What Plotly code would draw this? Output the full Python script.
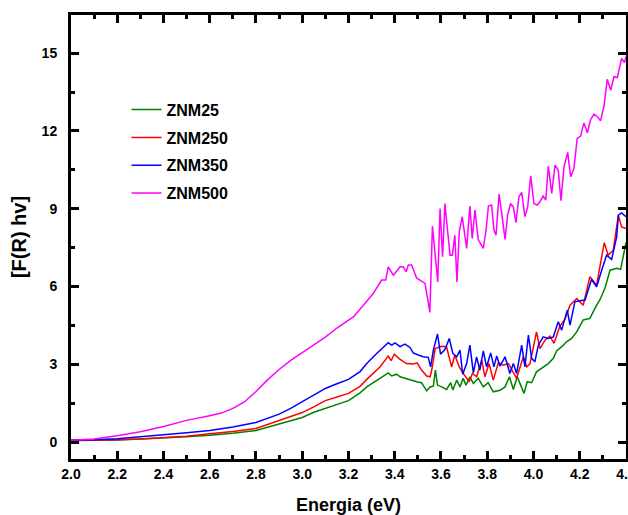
import plotly.graph_objects as go

# ---- data ----
x_znm25 = [2.0, 2.1, 2.2, 2.3, 2.4, 2.5, 2.6, 2.7, 2.8, 2.9, 2.95, 3.0, 3.05, 3.1, 3.15, 3.2, 3.25, 3.279,
           3.336, 3.372, 3.387, 3.408, 3.423, 3.444, 3.466, 3.495, 3.516, 3.538, 3.553, 3.567, 3.576, 3.585,
           3.603, 3.624, 3.642, 3.651, 3.668, 3.682, 3.696, 3.708, 3.725, 3.74, 3.761, 3.783, 3.804, 3.826,
           3.855, 3.877, 3.896, 3.913, 3.93, 3.949, 3.959, 3.973, 3.992, 4.013, 4.042, 4.064, 4.086, 4.1,
           4.122, 4.143, 4.165, 4.187, 4.215, 4.244, 4.273, 4.287, 4.309, 4.331, 4.36, 4.377, 4.395, 4.4]
y_znm25 = [0.06, 0.07, 0.08, 0.12, 0.16, 0.21, 0.27, 0.34, 0.45, 0.69, 0.82, 0.95, 1.15, 1.3, 1.45, 1.6, 1.9, 2.13,
           2.46, 2.67, 2.55, 2.62, 2.52, 2.46, 2.39, 2.33, 2.29, 1.98, 2.13, 2.16, 2.78, 2.2,
           2.13, 2.03, 2.29, 2.01, 2.39, 2.13, 2.46, 2.2, 2.52, 2.26, 2.46, 2.13, 2.29, 1.94,
           2.0, 2.13, 2.52, 2.03, 2.52, 2.13, 1.88, 2.33, 2.29, 2.71, 2.9, 3.03, 3.23, 3.52,
           3.68, 3.87, 4.0, 4.25, 4.71, 4.77, 5.28, 5.48, 5.93, 6.63, 6.7, 6.66, 7.47, 7.7]

x_znm250 = [2.0, 2.1, 2.2, 2.3, 2.4, 2.5, 2.6, 2.7, 2.8, 2.9, 2.95, 3.0, 3.05, 3.1, 3.15, 3.2, 3.25, 3.279,
            3.336, 3.372, 3.384, 3.398, 3.423, 3.451, 3.48, 3.497, 3.516, 3.538, 3.553, 3.56, 3.575, 3.603,
            3.624, 3.646, 3.66, 3.679, 3.696, 3.722, 3.736, 3.754, 3.776, 3.79, 3.808, 3.826, 3.848, 3.869,
            3.891, 3.913, 3.927, 3.956, 3.971, 3.985, 4.013, 4.028, 4.05, 4.071, 4.089, 4.114, 4.136, 4.158,
            4.187, 4.215, 4.244, 4.273, 4.306, 4.323, 4.345, 4.367, 4.381, 4.4]
y_znm250 = [0.06, 0.07, 0.09, 0.12, 0.17, 0.23, 0.32, 0.41, 0.53, 0.84, 0.98, 1.14, 1.36, 1.6, 1.74, 1.88, 2.15, 2.42,
            2.9, 3.32, 3.14, 3.39, 3.19, 3.03, 3.01, 3.06, 2.78, 2.55, 2.52, 2.78, 3.61, 3.7,
            3.68, 2.9, 3.36, 2.9, 2.65, 2.33, 2.65, 2.52, 3.16, 2.52, 3.03, 2.39, 3.06, 2.97,
            3.03, 2.71, 2.46, 3.29, 2.9, 3.03, 4.25, 3.61, 3.93, 4.09, 3.81, 4.47, 4.73, 5.28,
            5.54, 5.28, 6.38, 6.05, 7.69, 7.21, 7.4, 8.75, 8.3, 8.24]

x_znm350 = [2.0, 2.1, 2.2, 2.3, 2.4, 2.5, 2.6, 2.7, 2.8, 2.9, 2.95, 3.0, 3.05, 3.1, 3.15, 3.2, 3.25, 3.279,
            3.322, 3.351, 3.372, 3.387, 3.401, 3.423, 3.444, 3.466, 3.48, 3.502, 3.523, 3.545, 3.555, 3.567,
            3.585, 3.598, 3.617, 3.636, 3.651, 3.668, 3.682, 3.694, 3.711, 3.725, 3.74, 3.754, 3.768, 3.783,
            3.797, 3.815, 3.829, 3.841, 3.855, 3.877, 3.898, 3.913, 3.927, 3.949, 3.963, 3.978, 3.992, 4.006,
            4.021, 4.042, 4.064, 4.086, 4.107, 4.122, 4.146, 4.158, 4.179, 4.201, 4.223, 4.251, 4.273, 4.295,
            4.316, 4.338, 4.36, 4.367, 4.381, 4.4]
y_znm350 = [0.08, 0.09, 0.13, 0.2, 0.28, 0.36, 0.45, 0.58, 0.76, 1.08, 1.3, 1.55, 1.82, 2.07, 2.25, 2.42, 2.72, 3.03,
            3.42, 3.68, 3.83, 3.74, 3.83, 3.68, 3.78, 3.65, 3.44, 3.36, 3.29, 3.27, 2.9, 3.55,
            4.17, 3.39, 3.57, 4.0, 3.42, 3.29, 3.55, 2.62, 3.03, 3.74, 2.67, 3.29, 2.78, 3.52,
            2.9, 3.44, 2.9, 3.32, 2.93, 3.29, 2.65, 3.03, 2.65, 3.74, 2.9, 4.13, 3.23, 3.1,
            3.74, 4.06, 4.0, 4.06, 4.64, 4.32, 5.09, 4.51, 5.41, 5.45, 5.48, 6.27, 5.99, 6.63,
            7.21, 7.05, 7.92, 8.75, 8.84, 8.69]

x_znm500 = [2.0, 2.1, 2.2, 2.3, 2.4, 2.5, 2.6, 2.65, 2.7, 2.75, 2.8, 2.85, 2.9, 2.95, 3.0, 3.05, 3.1, 3.15, 3.2,
            3.221, 3.271, 3.307, 3.343, 3.361, 3.372, 3.394, 3.423, 3.437, 3.449, 3.459, 3.473, 3.495, 3.509,
            3.531, 3.552, 3.563, 3.586, 3.596, 3.607, 3.617, 3.639, 3.649, 3.66, 3.669, 3.679, 3.692, 3.711,
            3.725, 3.735, 3.747, 3.761, 3.783, 3.795, 3.805, 3.819, 3.829, 3.838, 3.851, 3.862, 3.877, 3.888,
            3.901, 3.913, 3.924, 3.937, 3.949, 3.963, 3.975, 3.988, 4.002, 4.016, 4.028, 4.042, 4.053, 4.064,
            4.079, 4.093, 4.107, 4.119, 4.132, 4.148, 4.161, 4.175, 4.189, 4.204, 4.218, 4.233, 4.247, 4.262,
            4.276, 4.29, 4.305, 4.319, 4.334, 4.348, 4.363, 4.381, 4.393, 4.4]
y_znm500 = [0.07, 0.12, 0.25, 0.4, 0.6, 0.84, 1.02, 1.12, 1.3, 1.55, 1.95, 2.4, 2.8, 3.15, 3.45, 3.75, 4.05, 4.4, 4.72,
            4.83, 5.35, 5.73, 6.25, 6.25, 6.76, 6.44, 6.76, 6.76, 6.57, 6.83, 6.83, 6.32, 6.25,
            6.12, 5.0, 8.33, 6.18, 9.01, 7.15, 9.2, 7.21, 7.21, 7.98, 6.18, 8.11, 8.69, 7.47,
            9.1, 7.85, 8.95, 7.81, 7.47, 8.18, 9.1, 9.14, 8.18, 7.98, 9.56, 8.88, 7.82, 8.75,
            9.2, 9.07, 8.46, 9.46, 9.63, 8.69, 9.07, 10.27, 9.2, 9.14, 9.27, 9.49, 9.33, 10.64,
            9.59, 10.68, 10.49, 9.31, 10.62, 11.17, 10.23, 10.56, 11.71, 11.8, 12.31, 11.93, 12.44, 12.65,
            12.55, 12.39, 12.96, 13.99, 13.57, 14.09, 14.06, 14.8, 14.63, 14.86]

x_tick_values = [2.0, 2.2, 2.4, 2.6, 2.8, 3.0, 3.2, 3.4, 3.6, 3.8, 4.0, 4.2, 4.4]
x_tick_labels = ["2.0", "2.2", "2.4", "2.6", "2.8", "3.0", "3.2", "3.4", "3.6", "3.8", "4.0", "4.2", "4.4"]
y_tick_values = [0, 3, 6, 9, 12, 15]
y_tick_labels = ["0", "3", "6", "9", "12", "15"]

series_names = ["ZNM25", "ZNM250", "ZNM350", "ZNM500"]
series_colors = ["#008000", "#FF0000", "#0000FF", "#FF00FF"]
series_x = [x_znm25, x_znm250, x_znm350, x_znm500]
series_y = [y_znm25, y_znm250, y_znm350, y_znm500]

FONT = "Liberation Sans, Arial, sans-serif"

fig = go.Figure()
for name, col, xs, ys in zip(series_names, series_colors, series_x, series_y):
    fig.add_trace(go.Scatter(x=xs, y=ys, mode="lines", name=name, legendgroup=name,
                             line=dict(color=col, width=1.5)))

fig.update_xaxes(range=[2.0, 4.4001], tickmode="array", tickvals=x_tick_values,
                 ticktext=["<b>" + t + "</b>" for t in x_tick_labels],
                 ticklabeloverflow="allow", automargin=False,
                 showgrid=False, zeroline=False, showline=True, linecolor="black", linewidth=3,
                 mirror="ticks", ticks="inside", ticklen=8, tickwidth=3, tickcolor="black",
                 tickfont=dict(family=FONT, size=14, color="black"),
                 minor=dict(ticks="inside", tickmode="linear", tick0=2.0, dtick=0.1, ticklen=4, tickwidth=3,
                            tickcolor="black"),
                 title=dict(text="Energia (eV)", standoff=18,
                            font=dict(family=FONT, size=18, color="black", weight="bold")))
fig.update_yaxes(range=[-0.65, 16.47], tickmode="array", tickvals=y_tick_values,
                 ticktext=["<b>" + t + "</b>" for t in y_tick_labels], automargin=False,
                 showgrid=False, zeroline=False, showline=True, linecolor="black", linewidth=3,
                 mirror="ticks", ticks="inside", ticklen=8, tickwidth=3, tickcolor="black",
                 tickfont=dict(family=FONT, size=14, color="black"),
                 minor=dict(ticks="inside", tickmode="linear", tick0=0, dtick=1.5, ticklen=4, tickwidth=3,
                            tickcolor="black"),
                 ticklabelstandoff=8,
                 title=dict(text="[F(R) hv]", standoff=10,
                            font=dict(family=FONT, size=20, color="black", weight="bold")))

fig.update_layout(
    width=628, height=515,
    margin=dict(l=71, r=2, t=15, b=56),
    paper_bgcolor="white", plot_bgcolor="white",
    showlegend=True,
    legend=dict(x=0.1, y=0.825, xanchor="left", yanchor="top",
                font=dict(family=FONT, size=16, color="black", weight="bold"),
                tracegroupgap=4),
)

fig.write_html("out.html")
